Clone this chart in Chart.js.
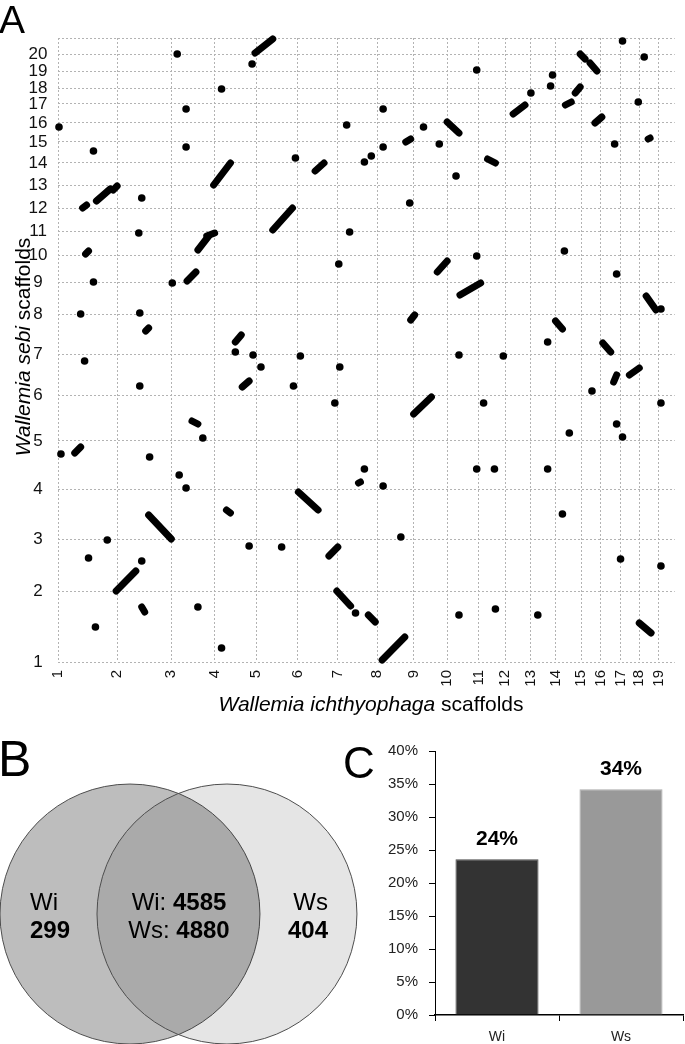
<!DOCTYPE html>
<html lang="en">
<head>
<meta charset="UTF-8">
<title>Wallemia scaffolds</title>
<script src="https://cdn.jsdelivr.net/npm/chart.js@4.4.1/dist/chart.umd.min.js"></script>
<style>
	body { margin: 0; background: #fff; font-family: "Liberation Sans", Arial, sans-serif; color: #000; }
	#page { position: relative; width: 685px; height: 1044px; overflow: hidden; }
	canvas, .lbl { position: absolute; }
	.lbl { white-space: nowrap; line-height: 1; z-index: 2; }
	.venn { font-size: 24px; line-height: 28px; }
</style>
</head>
<body>
<div id="page">
	<canvas id="venn" width="365" height="324" style="left:0;top:720px"></canvas>
	<canvas id="bars" width="340" height="324" style="left:345px;top:720px"></canvas>
	<canvas id="dotplot" width="685" height="715" style="left:0;top:0"></canvas>

	<div class="lbl" style="left:-1px;top:0;font-size:39px">A</div>
	<div class="lbl" style="left:-2px;top:734px;font-size:50px">B</div>
	<div class="lbl" style="left:343px;top:741px;font-size:44px">C</div>

	<div class="lbl" style="left:22px;top:347px;font-size:21px;transform:translate(-50%,-50%) rotate(-90deg)"><i>Wallemia sebi</i> scaffolds</div>
	<div class="lbl" style="left:371px;top:703px;font-size:21px;transform:translate(-50%,-50%)"><i>Wallemia ichthyophaga</i> scaffolds</div>

	<div id="vennLeft" class="lbl venn" style="left:30px;top:888px;text-align:left"></div>
	<div id="vennMid" class="lbl venn" style="left:179px;top:888px;text-align:center;transform:translateX(-50%)"></div>
	<div id="vennRight" class="lbl venn" style="left:328px;top:888px;text-align:right;transform:translateX(-100%)"></div>
</div>
<script>
// ---- panel A: dot plot, positions are cumulative along each genome
const wiScaffolds = ['1','2','3','4','5','6','7','8','9','10','11','12','13','14','15','16','17','18','19'];
const wiStarts = [0, 60, 115, 159, 201, 243, 284, 324, 361, 395, 427, 454, 480, 505, 531, 551, 571, 590, 610];
const wiTotal = 626;
const wsScaffolds = ['1','2','3','4','5','6','7','8','9','10','11','12','13','14','15','16','17','18','19','20'];
const wsStarts = [0, 71, 123, 173, 221, 267, 308, 348, 380, 407, 431, 454, 477, 499, 520, 539, 558, 574, 591, 608];
const wsTotal = 624;

// single hits [x, y]
const singleHits = [
	[1,535],[36,511],[36,380],[23,348],[121,608],[166,573],[130,553],[130,515],[85,464],[82,429],
	[116,379],[83,349],[197,598],[241,504],[285,398],[293,537],[3,208],[27,301],[83,276],[180,310],
	[198,307],[206,295],[239,276],[246,306],[286,295],[281,259],[147,224],[93,205],[123,187],[130,174],
	[50,122],[31,104],[85,101],[194,116],[227,115],[38,35],[142,55],[166,14],[302,49],[497,320],
	[407,307],[452,306],[542,271],[432,259],[612,259],[567,238],[573,225],[519,229],[311,193],[330,176],
	[425,193],[443,193],[497,193],[512,148],[348,125],[571,103],[612,96],[444,53],[407,47],[487,47],
	[573,621],[595,605],[425,592],[502,587],[500,576],[480,569],[589,560],[330,553],[371,535],[330,515],
	[387,518],[318,506],[311,500],[404,486],[357,459],[565,518],[296,430],[425,406],[514,411],[567,388],
	[612,353]
];

// collinear runs of hits [x1, y1, x2, y2]
const syntenyRuns = [
	[25,454,29,457],[39,461,53,473],[56,472,60,476],[28,408,31,411],[131,381,140,390],
	[142,412,153,426],[151,426,159,429],[158,477,175,499],[200,609,218,623],[261,491,270,499],
	[218,432,238,454],[17,209,23,215],[89,331,92,334],[180,320,186,327],[187,275,194,281],
	[136,241,142,238],[92,147,115,123],[59,71,79,91],[171,152,175,149],[244,170,264,152],
	[275,106,284,115],[283,71,297,56],[315,47,322,40],[329,2,352,25],[85,55,88,50],
	[358,342,362,347],[505,341,512,333],[553,319,561,310],[564,280,567,287],[580,287,590,294],
	[361,248,379,265],[305,179,307,180],[590,39,602,29],[530,608,535,603],[540,599,547,591],
	[525,569,530,575],[462,548,474,557],[515,557,521,560],[545,539,552,545],[395,540,407,529],
	[353,520,358,523],[436,503,444,499],[385,390,395,401],[408,367,429,379],[597,366,607,352],
	[599,523,601,524]
];

// ---- panel B: Venn counts
const vennSets = ['Wi', 'Ws'];
const uniqueCounts = [299, 404];
const sharedCounts = [4585, 4880];

// ---- panel C: bars
const barCategories = ['Wi', 'Ws'];
const barPercent = [23.6, 34.2];

Chart.defaults.font.family = '"Liberation Sans", Arial, sans-serif';
Chart.defaults.color = '#111';

var gridOpts = { color: '#b3b3b3', lineWidth: 1, drawTicks: false };
var borderOpts = { display: false, dash: [2, 2] };

new Chart(document.getElementById('dotplot'), {
	type: 'scatter',
	data: {
		datasets: [{
			data: singleHits.map(p => ({ x: p[0], y: p[1] })),
			pointRadius: 3.8,
			pointBackgroundColor: '#000',
			pointBorderWidth: 0,
			clip: false
		}].concat(syntenyRuns.map(s => ({
			data: [{ x: s[0], y: s[1] }, { x: s[2], y: s[3] }],
			showLine: true,
			pointRadius: 0,
			borderColor: '#000',
			borderWidth: 7,
			borderCapStyle: 'round',
			clip: false
		})))
	},
	options: {
		responsive: false,
		animation: false,
		events: [],
		layout: { autoPadding: false, padding: { top: 38, right: 1, bottom: 13, left: 0 } },
		plugins: { legend: { display: false }, tooltip: { enabled: false } },
		scales: {
			x: {
				type: 'linear', min: 0, max: wiTotal,
				afterBuildTicks: s => { s.ticks = wiStarts.map(v => ({ value: v })); },
				ticks: { autoSkip: false, minRotation: 90, maxRotation: 90, padding: 8, font: { size: 15 }, color: '#111',
					callback: (v, i) => wiScaffolds[i] },
				grid: gridOpts, border: borderOpts,
				afterFit: s => { s.height = 40; }
			},
			y: {
				type: 'linear', min: 0, max: wsTotal,
				afterBuildTicks: s => { s.ticks = wsStarts.concat([wsTotal]).map(v => ({ value: v })); },
				ticks: { autoSkip: false, crossAlign: 'center', padding: 10.5, font: { size: 17 }, color: '#111',
					callback: (v, i) => (i < wsScaffolds.length ? wsScaffolds[i] : '') },
				grid: gridOpts, border: borderOpts,
				afterFit: s => { s.width = 58; }
			}
		}
	}
});

// Venn: two equal circles, centres one unit apart; the chart area is the whole canvas
var VENN_R = 1.34;
var VENN_X = [-1.840, 1.923];
var VENN_Y = [-1.34, 2.0];
new Chart(document.getElementById('venn'), {
	type: 'bubble',
	data: {
		datasets: [{
			data: vennSets.map((s, i) => ({ x: i - 0.5, y: 0 })),
			backgroundColor: ['rgba(0,0,0,0.26)', 'rgba(0,0,0,0.1)'],
			borderColor: '#4d4d4d',
			borderWidth: 1,
			// radius in x units, turned into pixels (scales are not laid out yet when bubbles are parsed)
			radius: ctx => VENN_R * ctx.chart.width / (VENN_X[1] - VENN_X[0]),
			hoverRadius: 0,
			clip: false
		}]
	},
	options: {
		responsive: false,
		animation: false,
		events: [],
		layout: { autoPadding: false, padding: 0 },
		plugins: { legend: { display: false }, tooltip: { enabled: false } },
		scales: {
			x: { display: false, min: VENN_X[0], max: VENN_X[1] },
			y: { display: false, min: VENN_Y[0], max: VENN_Y[1] }
		}
	}
});
document.getElementById('vennLeft').innerHTML = vennSets[0] + '<br><b>' + uniqueCounts[0] + '</b>';
document.getElementById('vennMid').innerHTML = vennSets[0] + ': <b>' + sharedCounts[0] + '</b><br>' + vennSets[1] + ': <b>' + sharedCounts[1] + '</b>';
document.getElementById('vennRight').innerHTML = vennSets[1] + '<br><b>' + uniqueCounts[1] + '</b>';

// value labels over the bars
var barValueLabels = {
	id: 'barValueLabels',
	afterDatasetsDraw(chart) {
		var ctx = chart.ctx;
		var meta = chart.getDatasetMeta(0);
		ctx.save();
		ctx.font = 'bold 21px "Liberation Sans", Arial, sans-serif';
		ctx.fillStyle = '#000';
		ctx.textAlign = 'center';
		ctx.textBaseline = 'middle';
		meta.data.forEach((bar, i) => {
			ctx.fillText(Math.round(barPercent[i]) + '%', bar.x, bar.y - 20);
		});
		ctx.restore();
	}
};

new Chart(document.getElementById('bars'), {
	type: 'bar',
	data: {
		labels: barCategories,
		datasets: [{
			data: barPercent,
			backgroundColor: ['#333333', '#999999'],
			borderColor: ['#4a4a4a', '#ababab'],
			borderWidth: 1,
			barPercentage: 0.67,
			categoryPercentage: 1
		}]
	},
	options: {
		responsive: false,
		animation: false,
		events: [],
		layout: { padding: { top: 31, right: 2, bottom: 0, left: 0 } },
		plugins: { legend: { display: false }, tooltip: { enabled: false } },
		scales: {
			x: {
				grid: { display: true, drawOnChartArea: false, offset: true, tickLength: 6, color: '#000' },
				border: { color: '#000', width: 1.5 },
				ticks: { padding: 8, color: '#222', font: { size: 14 } },
				afterFit: s => { s.height = 29; }
			},
			y: {
				min: 0, max: 40,
				ticks: { stepSize: 5, padding: 11, color: '#222', font: { size: 15 }, callback: v => v + '%' },
				grid: { drawOnChartArea: false, tickLength: 6, color: '#000' },
				border: { color: '#000', width: 1 },
				afterFit: s => { s.width = 90; }
			}
		}
	},
	plugins: [barValueLabels]
});
</script>
</body>
</html>
